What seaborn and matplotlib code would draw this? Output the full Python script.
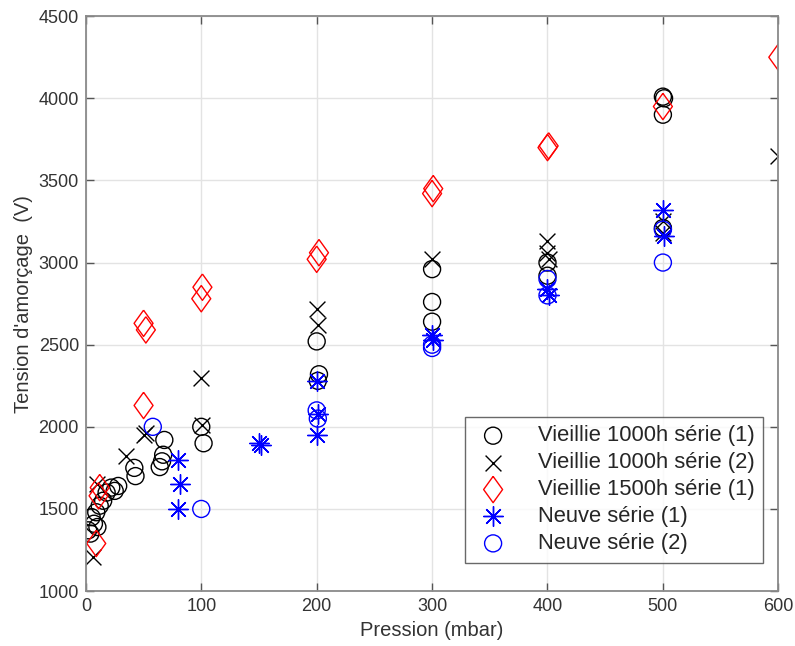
# Tension d'amorçage en fonction de la pression - comparaison des séries
import matplotlib
matplotlib.use("Agg")
import matplotlib.pyplot as plt
import seaborn as sns

# Vieillie 1000h série (1) - cercles noirs
v1000_s1_x = [2, 4, 5, 7, 9, 10, 12, 15, 18, 22, 25, 28, 42, 43, 64, 66, 67, 68,
              100, 102, 200, 202, 201, 300, 300, 300, 400, 400, 500, 501, 500, 500]
v1000_s1_y = [1370, 1350, 1450, 1410, 1480, 1390, 1520, 1550, 1600, 1630, 1610, 1640,
              1750, 1700, 1755, 1790, 1830, 1920, 2000, 1900, 2520, 2320, 2280,
              2960, 2760, 2640, 3000, 2920, 4010, 4000, 3900, 3210]

# Vieillie 1000h série (2) - croix noires
v1000_s2_x = [6, 10, 35, 50, 52, 100, 101, 200, 201, 300, 400, 400, 401, 500, 500, 600]
v1000_s2_y = [1210, 1650, 1820, 1950, 1960, 2300, 2010, 2720, 2620, 3020,
              3130, 3060, 3020, 3250, 3180, 3650]

# Vieillie 1500h série (1) - losanges rouges
v1500_s1_x = [9, 11, 12, 50, 50, 52, 100, 101, 200, 202, 300, 301, 400, 401, 500, 600]
v1500_s1_y = [1290, 1580, 1630, 2130, 2630, 2590, 2780, 2850, 3020, 3060,
              3420, 3450, 3700, 3710, 3950, 4250]

# Neuve série (1) - étoiles bleues
neuve_s1_x = [80, 82, 80, 150, 152, 200, 201, 200, 300, 301, 400, 401, 500, 501]
neuve_s1_y = [1800, 1650, 1500, 1900, 1890, 2280, 2080, 1950, 2560, 2530,
              2840, 2800, 3320, 3160]

# Neuve série (2) - cercles bleus
neuve_s2_x = [58, 100, 200, 201, 300, 300, 400, 400, 500, 500]
neuve_s2_y = [2000, 1500, 2100, 2050, 2500, 2480, 2900, 2800, 3200, 3000]

sns.set_theme(style="ticks")
plt.rcParams["font.family"] = ["Liberation Sans", "DejaVu Sans"]

fig = plt.figure(figsize=(7.95, 6.46), dpi=100)
ax = fig.add_axes([0.108, 0.085, 0.871, 0.890])

# losange un peu plus large que le 'd' de matplotlib (comme matlab)
losange = [(0, 1), (0.72, 0), (0, -1), (-0.72, 0), (0, 1)]

# marqueurs vides type matlab
sns.scatterplot(x=v1000_s1_x, y=v1000_s1_y, marker="o", s=150, facecolors="none",
                edgecolor="black", linewidth=1.0, label="Vieillie 1000h série (1)", ax=ax)
sns.scatterplot(x=v1000_s2_x, y=v1000_s2_y, marker="x", s=130, color="black",
                linewidth=1.0, label="Vieillie 1000h série (2)", ax=ax)
sns.scatterplot(x=v1500_s1_x, y=v1500_s1_y, marker=losange, s=360, facecolors="none",
                edgecolor="red", linewidth=1.0, label="Vieillie 1500h série (1)", ax=ax)
sns.scatterplot(x=neuve_s1_x, y=neuve_s1_y, marker=(8, 2, 0), s=200, color="blue",
                linewidth=1.0, label="Neuve série (1)", ax=ax)
sns.scatterplot(x=neuve_s2_x, y=neuve_s2_y, marker="o", s=150, facecolors="none",
                edgecolor="blue", linewidth=1.0, label="Neuve série (2)", ax=ax)

ax.set_xlim(0, 600)
ax.set_ylim(1000, 4500)
ax.set_xticks(range(0, 601, 100))
ax.set_yticks(range(1000, 4501, 500))
ax.grid(True, color="#e3e3e3", linewidth=1.0)
ax.set_axisbelow(True)

for sp in ax.spines.values():
    sp.set_color("#8a8a8a")
    sp.set_linewidth(1.3)
ax.tick_params(direction="in", length=6, width=1, color="#555555",
               top=True, right=True, labelsize=13, labelcolor="#333333", pad=5)

ax.set_xlabel("Pression (mbar)", fontsize=14.5, color="#333333")
ax.set_ylabel("Tension d'amorçage  (V)", fontsize=14.5, color="#333333")

leg = ax.legend(loc="lower right", bbox_to_anchor=(0.978, 0.049), borderaxespad=0,
                fontsize=15.8, frameon=True, fancybox=False, edgecolor="#444444",
                handlelength=1.75, handletextpad=1.15, labelspacing=0.27,
                borderpad=0.4, markerscale=1.0)
leg.get_frame().set_linewidth(1.0)

plt.savefig("out.png", dpi=100)
